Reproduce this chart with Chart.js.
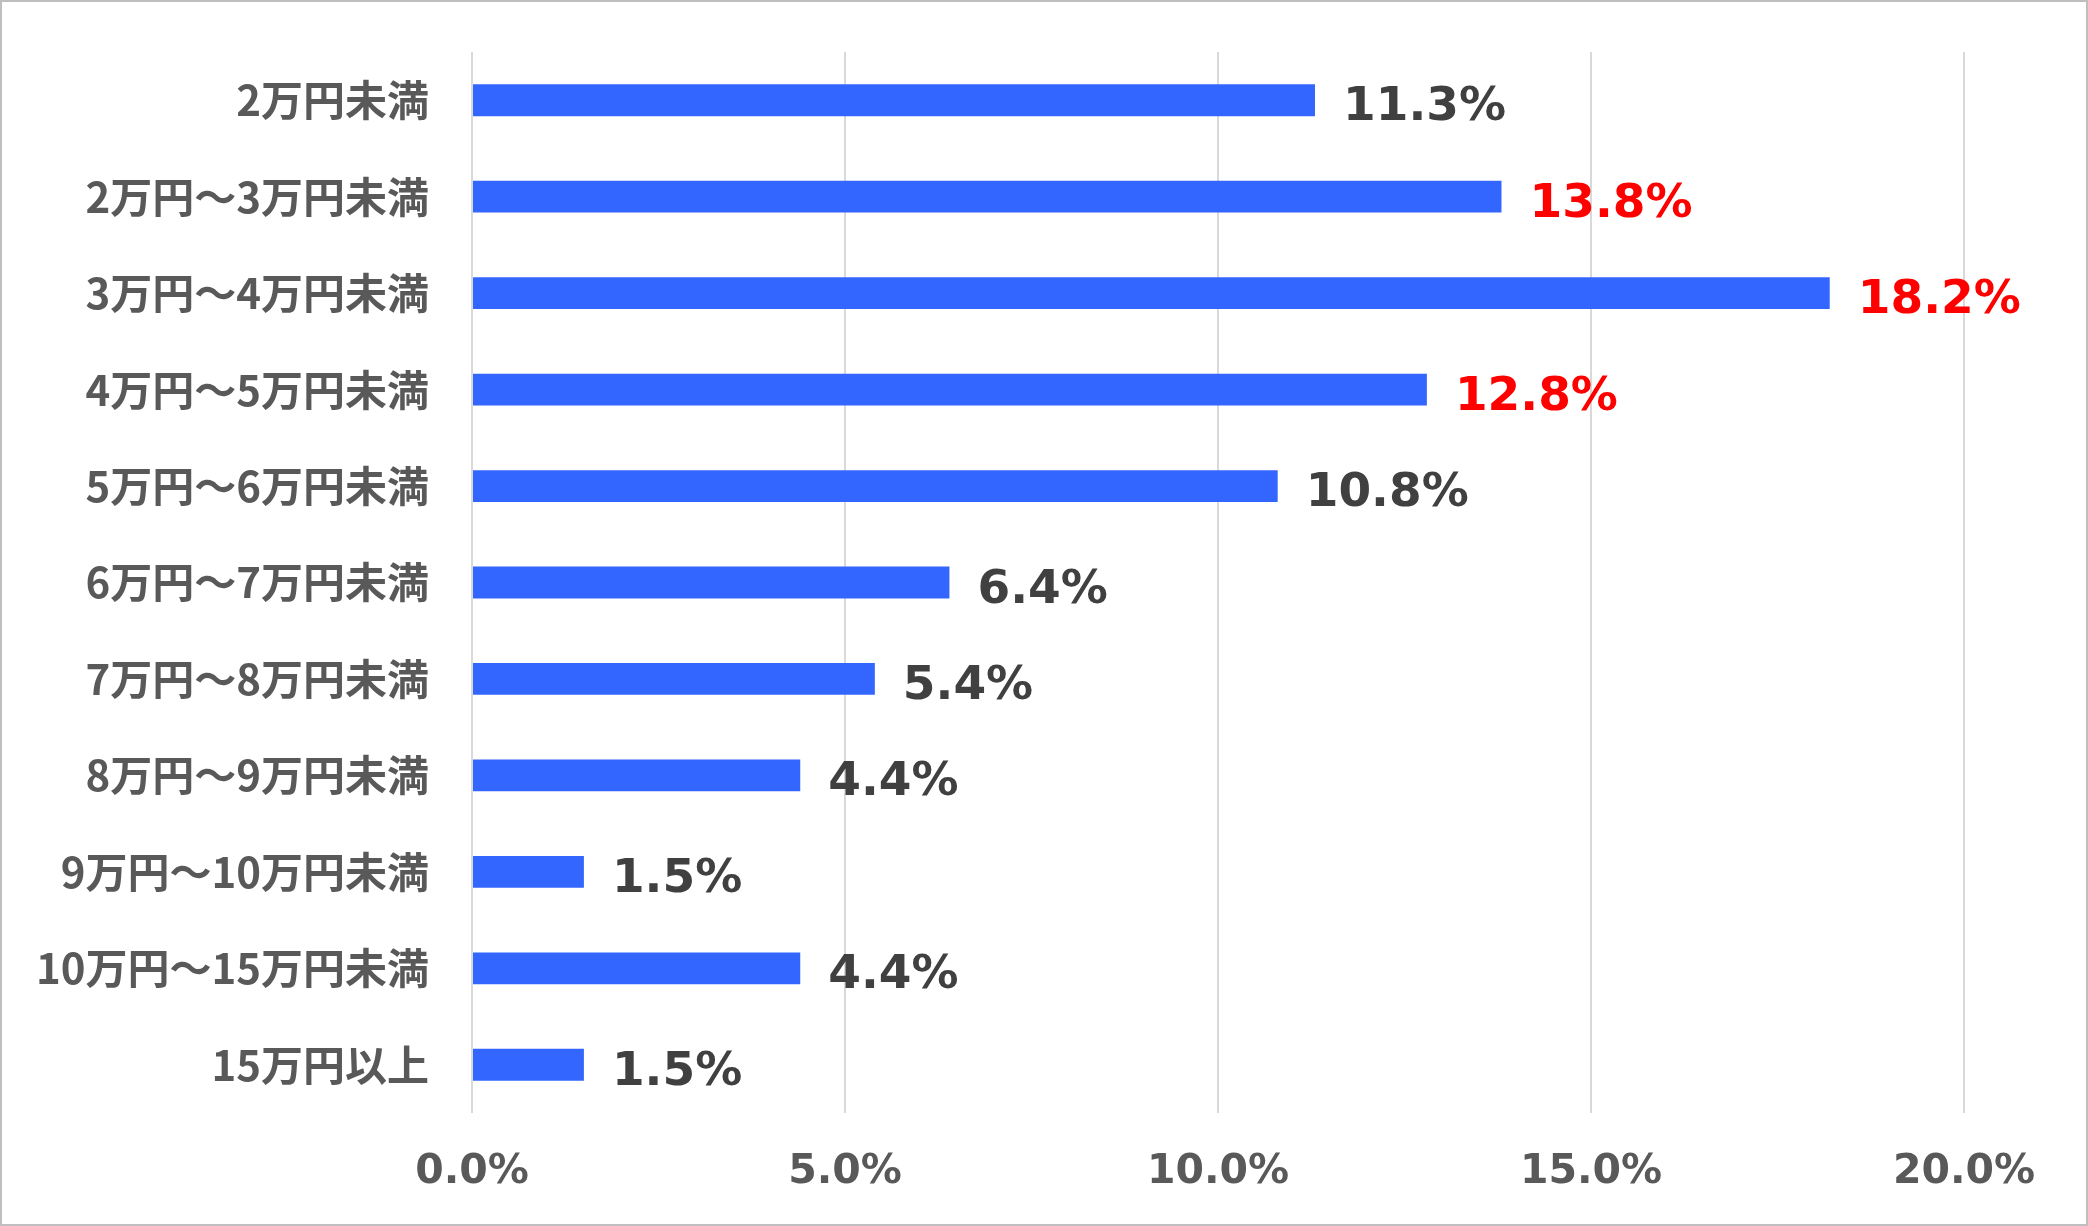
<!DOCTYPE html>
<html>
<head>
<meta charset="utf-8">
<script src="https://cdn.jsdelivr.net/npm/chart.js@4"></script>
<style>
html,body{margin:0;padding:0;background:#fff;}
#wrap{width:2088px;height:1226px;position:relative;}
</style>
</head>
<body>
<div id="wrap"><canvas id="c" width="2088" height="1226"></canvas></div>
<script>
const categories = ['2万円未満','2万円～3万円未満','3万円～4万円未満','4万円～5万円未満','5万円～6万円未満','6万円～7万円未満','7万円～8万円未満','8万円～9万円未満','9万円～10万円未満','10万円～15万円未満','15万円以上'];
const values = [11.3, 13.8, 18.2, 12.8, 10.8, 6.4, 5.4, 4.4, 1.5, 4.4, 1.5];
const highlighted = [false, true, true, true, false, false, false, false, false, false, false];
const tickValues = [0, 5, 10, 15, 20];
const tickLabels = ['0.0%', '5.0%', '10.0%', '15.0%', '20.0%'];

const CJK = "'Noto Sans CJK JP', 'Noto Sans', sans-serif";
const NUM = "'DejaVu Sans', Verdana, sans-serif";

const labelPlugin = {
  id: 'barLabels',
  afterDatasetsDraw(chart) {
    const ctx = chart.ctx;
    const meta = chart.getDatasetMeta(0);
    ctx.save();
    ctx.font = "bold 47px " + NUM;
    ctx.textBaseline = 'alphabetic';
    ctx.textAlign = 'left';
    meta.data.forEach((bar, i) => {
      ctx.fillStyle = highlighted[i] ? '#FF0000' : '#404040';
      ctx.fillText(values[i].toFixed(1) + '%', bar.x + 28, bar.y + 20);
    });
    ctx.restore();
  },
  afterDraw(chart) {
    const ctx = chart.ctx;
    ctx.save();
    ctx.strokeStyle = '#BFBFBF';
    ctx.lineWidth = 2;
    ctx.strokeRect(1, 1, chart.width - 2, chart.height - 2);
    ctx.restore();
  }
};

new Chart(document.getElementById('c'), {
  type: 'bar',
  data: {
    labels: categories,
    datasets: [{
      data: values,
      backgroundColor: '#3366FF',
      borderWidth: 0,
      barPercentage: 0.33,
      categoryPercentage: 1.0
    }]
  },
  options: {
    indexAxis: 'y',
    responsive: false,
    animation: false,
    devicePixelRatio: 1,
    layout: { padding: { top: 52, right: 124, bottom: 30, left: 0 } },
    plugins: { legend: { display: false }, tooltip: { enabled: false } },
    scales: {
      x: {
        min: 0, max: 20,
        afterBuildTicks(scale) { scale.ticks = tickValues.map(v => ({ value: v })); },
        afterFit(scale) { scale.height = 83; scale.paddingLeft = 0; scale.paddingRight = 0; },
        ticks: {
          callback(v) { const k = tickValues.indexOf(v); return k >= 0 ? tickLabels[k] : ''; },
          color: '#595959',
          font: { family: NUM, size: 41, weight: 'bold' },
          padding: 35,
          maxRotation: 0
        },
        grid: { color: '#D9D9D9', lineWidth: 2, drawTicks: false },
        border: { display: false }
      },
      y: {
        afterFit(scale) { scale.width = 472; scale.paddingTop = 0; scale.paddingBottom = 0; },
        ticks: {
          color: '#595959',
          font: { family: CJK, size: 42, weight: 'bold' },
          padding: 43
        },
        grid: { display: false, drawTicks: false },
        border: { display: false }
      }
    }
  },
  plugins: [labelPlugin]
});
</script>
</body>
</html>
